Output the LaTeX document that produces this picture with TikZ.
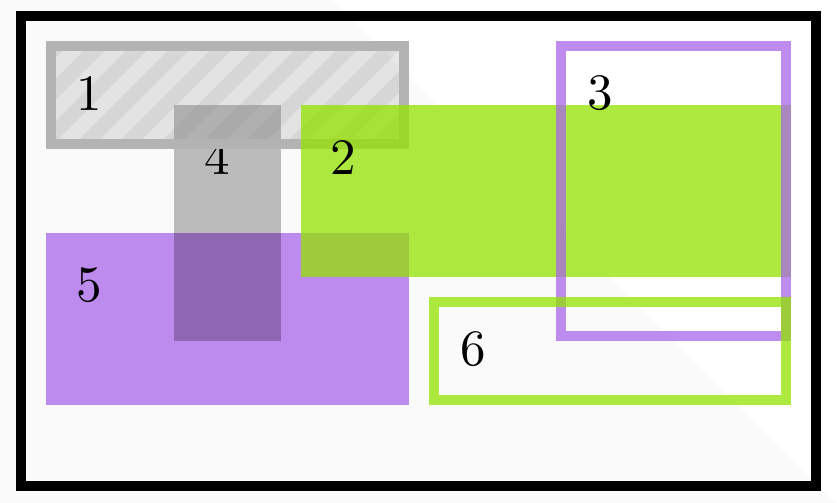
\documentclass[tikz,border=0pt]{standalone}
\usepackage{tikz}
\definecolor{pagegray}{RGB}{250,250,250}
\definecolor{edgegray}{RGB}{179,179,179}
\definecolor{hatchgray}{RGB}{128,128,128}
\definecolor{boxgreen}{RGB}{147,226,0}
\definecolor{boxpurple}{RGB}{169,101,234}
\newcommand{\bignum}[1]{\scalebox{2.55}{#1}}
\begin{document}
\begin{tikzpicture}[x=0.5pt, y=-0.5pt,
    edge/.style={line width=5pt},
    num/.style={inner sep=0pt}]
    \useasboundingbox (0,0) rectangle (837,503);
    \fill[white] (0,0) rectangle (837,503);
    \fill[pagegray] (0,0) -- (332,0) -- (835,503) -- (0,503) -- cycle;
    \draw[edge, black] (21,16) rectangle (816,486);

    % filled boxes below the hatched one
    \fill[boxpurple, fill opacity=0.75] (46,233) rectangle (409,405);
    \node[num] (n5) at (89,285.5) {\bignum{5}};
    \fill[black, fill opacity=0.25] (174,105) rectangle (281,341);
    \node[num] (n4) at (217.5,157.5) {\bignum{4}};

    % hatched box
    \fill[hatchgray, fill opacity=0.18] (51,46) rectangle (404,144);
    \begin{scope}
        \clip (56,51) rectangle (399,139);
        \foreach \s in {-88,-46,...,430}
            \draw[hatchgray, draw opacity=0.12, line width=7.4pt] (\s,149) -- ++(108,-108);
    \end{scope}
    \draw[edge, edgegray] (51,46) rectangle (404,144);
    \node[num] (n1) at (89.5,93.5) {\bignum{1}};

    \fill[boxgreen, fill opacity=0.75] (301,105) rectangle (791,277);
    \node[num] (n2) at (343.5,157.5) {\bignum{2}};
    \draw[edge, boxpurple, draw opacity=0.75] (561,46) rectangle (786,336);
    \node[num] (n3) at (600,93.5) {\bignum{3}};
    \draw[edge, boxgreen, draw opacity=0.75] (434,302) rectangle (786,400);
    \node[num] (n6) at (473,349.5) {\bignum{6}};
\end{tikzpicture}
\end{document}
